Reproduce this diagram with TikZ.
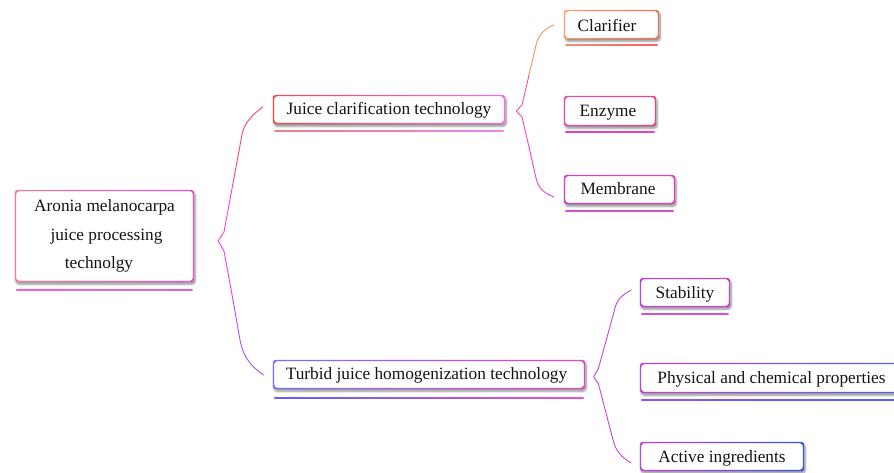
\documentclass[tikz,border=0pt]{standalone}
\usepackage{fontspec}
\setmainfont{Liberation Serif}
\usetikzlibrary{shadows,shadows.blur,calc}
\definecolor{rootL}{HTML}{F87898}\definecolor{rootR}{HTML}{F050C8}
\definecolor{jctL}{HTML}{F24848}\definecolor{jctR}{HTML}{F070E0}
\definecolor{clarL}{HTML}{F8A070}\definecolor{clarR}{HTML}{F07050}
\definecolor{enzL}{HTML}{E050B0}\definecolor{enzR}{HTML}{F04090}
\definecolor{memL}{HTML}{D040D0}\definecolor{memR}{HTML}{E040C0}
\definecolor{tjL}{HTML}{7070FF}\definecolor{tjR}{HTML}{F040C0}
\definecolor{stabL}{HTML}{C040E0}\definecolor{stabR}{HTML}{D040D0}
\definecolor{physL}{HTML}{C040E0}\definecolor{physR}{HTML}{5060F0}
\definecolor{actL}{HTML}{C040E0}\definecolor{actR}{HTML}{3050F0}
\definecolor{uRootL}{HTML}{F060D8}\definecolor{uRootR}{HTML}{E060E0}
\definecolor{uJctL}{HTML}{F08080}\definecolor{uJctR}{HTML}{F080F0}
\definecolor{uClarL}{HTML}{F09070}\definecolor{uClarR}{HTML}{F06060}
\definecolor{uEnzL}{HTML}{E040C0}\definecolor{uEnzR}{HTML}{F040B0}
\definecolor{uMem}{HTML}{D050D0}
\definecolor{uTjL}{HTML}{6060F0}\definecolor{uTjR}{HTML}{F050C8}
\definecolor{uPhysL}{HTML}{9050F0}\definecolor{uPhysR}{HTML}{5060F0}
\definecolor{brA}{HTML}{F54575}\definecolor{brB}{HTML}{F040E0}\definecolor{brC}{HTML}{A850F0}
\definecolor{brD}{HTML}{F89050}\definecolor{brE}{HTML}{F050A0}\definecolor{brF}{HTML}{E040E8}
\definecolor{brG}{HTML}{C840D8}
\newcommand\gborder[3]{\shade[left color=#2,right color=#3,even odd rule,rounded corners=3pt] (#1.north west) rectangle (#1.south east) ([shift={(1.4,1.4)}]#1.north west) rectangle ([shift={(-1.4,-1.4)}]#1.south east);}
\newcommand\gunder[4]{\shade[left color=#3,right color=#4] ([shift={(1.5,#2)}]#1.south west) rectangle ([shift={(-1.5,#2+1.5)}]#1.south east);}
\begin{document}
\begin{tikzpicture}[x=1pt,y=-1pt,
  mbox/.style={fill=white, rounded corners=3pt, inner sep=0pt, text=black!92,
    font=\fontsize{17.3}{28.5}\selectfont, text height=14pt, text depth=3pt,
    blur shadow={shadow xshift=1.2pt, shadow yshift=-2.2pt, shadow blur radius=2pt, shadow blur steps=6, shadow opacity=45}},
  brace/.style={line width=0.9pt, line join=round, line cap=round}]
\useasboundingbox (0,0) rectangle (894,473);

% nodes
\node[mbox, minimum width=179, minimum height=92, align=center, text height=, text depth=] (root) at (104.5,236)
  {Aronia melanocarpa\\\hspace*{4pt}juice processing\\technolgy\hspace*{11pt}};
\node[mbox, minimum width=232, minimum height=29, text height=13pt] (jct) at (389,109.5) {Juice clarification technology};
\node[mbox, minimum width=95, minimum height=29, text height=15pt, text depth=0pt] (clar) at (611.5,24.5) {Clarifier\hspace*{9pt}};
\node[mbox, minimum width=92, minimum height=30] (enz) at (610,111) {Enzyme\hspace*{4pt}};
\node[mbox, minimum width=111, minimum height=29] (mem) at (619.5,189.5) {Membrane\hspace*{3pt}};
\node[mbox, minimum width=312, minimum height=29, text height=13pt] (tjht) at (429,374.5) {Turbid juice homogenization technology\hspace*{5pt}};
\node[mbox, minimum width=90, minimum height=29] (stab) at (685,292.5) {Stability};
\node[mbox, minimum width=263, minimum height=30] (phys) at (771.5,378) {Physical and chemical properties};
\node[mbox, minimum width=164, minimum height=29] (act) at (722,456.5) {Active ingredients};

% gradient borders
\gborder{root}{rootL}{rootR}
\gborder{jct}{jctL}{jctR}
\gborder{clar}{clarL}{clarR}
\gborder{enz}{enzL}{enzR}
\gborder{mem}{memL}{memR}
\gborder{tjht}{tjL}{tjR}
\gborder{stab}{stabL}{stabR}
\gborder{phys}{physL}{physR}
\gborder{act}{actL}{actR}

% underlines
\gunder{root}{7}{uRootL}{uRootR}
\gunder{jct}{6}{uJctL}{uJctR}
\gunder{clar}{5}{uClarL}{uClarR}
\gunder{enz}{5}{uEnzL}{uEnzR}
\gunder{mem}{6}{uMem}{uMem}
\gunder{tjht}{8}{uTjL}{uTjR}
\gunder{stab}{6}{uMem}{uMem}
\gunder{phys}{6}{uPhysL}{uPhysR}

% brace from root
\coordinate (rtip) at ([shift={(24,5)}]root.east);
\draw[brace, draw=brA]
  ([shift={(-10,-2.5)}]jct.west) .. controls (247,119) and (243,126) .. (241,140) -- (232.5,186);
\draw[brace, draw=brB]
  (232.5,186) -- (224,232) -- (rtip) -- (224,251) -- (233,300);
\draw[brace, draw=brC]
  (233,300) -- (240,340) .. controls (243,356) and (250,366) .. ([shift={(-9,0.5)}]tjht.west);

% brace from jct
\coordinate (jtip) at ([shift={(11,1.5)}]jct.east);
\draw[brace, draw=brD]
  ([shift={(-10,0.5)}]clar.west) .. controls (545,29) and (539,33) .. (536,45) -- (529,75);
\draw[brace, draw=brE]
  (529,75) -- (522,105) -- (jtip) -- (522,117) -- (529,147);
\draw[brace, draw=brF]
  (529,147) -- (536,178) .. controls (539,190) and (545,193) .. ([shift={(-10,7.5)}]mem.west);

% brace from tjht
\coordinate (ttip) at ([shift={(8.5,2.5)}]tjht.east);
\draw[brace, draw=brG]
  ([shift={(-8.5,-2.5)}]stab.west) .. controls (622,295) and (616,300) .. (614,312)
  -- (598.5,368) -- (ttip) -- (598.5,384) -- (613,440)
  .. controls (616,452) and (622,457) .. ([shift={(-9,6.5)}]act.west);
\end{tikzpicture}
\end{document}
